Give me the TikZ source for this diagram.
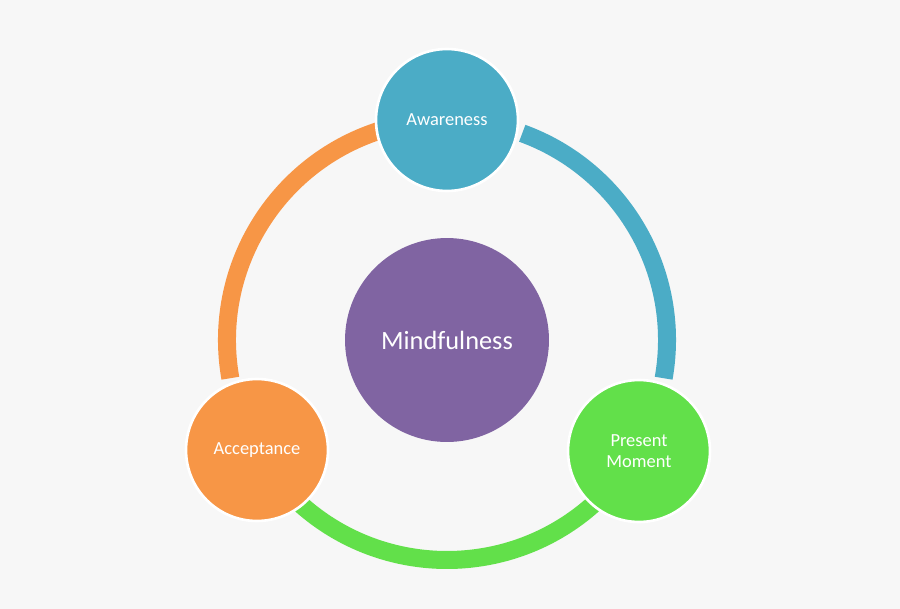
\documentclass[tikz,border=0pt]{standalone}
\usepackage{fontspec}
\setmainfont{Carlito}
\usetikzlibrary{positioning}
\definecolor{awareblue}{HTML}{4BACC6}
\definecolor{mindpurple}{HTML}{8064A2}
\definecolor{presentgreen}{HTML}{62E04A}
\definecolor{acceptorange}{HTML}{F79646}
\definecolor{bggray}{HTML}{F7F7F7}
\begin{document}
\begin{tikzpicture}[x=0.02cm,y=-0.02cm]
		\tikzstyle{petal} = [circle, draw=white, line width=1.5pt, minimum size=2.84cm, text=white, font=\fontsize{10.5}{12}\selectfont, align=center, inner sep=0pt]
		\tikzstyle{ring} = [line width=0.36cm]
		\fill[bggray] (0,0) rectangle (900,609);
		\useasboundingbox (0,0) rectangle (900,609);
		\coordinate (hub) at (447,340);

		% ring arcs (y axis points down, so angles are mirrored)
		\draw[ring, awareblue] (hub) ++(-70:220) arc[start angle=-70, end angle=10, radius=220];
		\draw[ring, presentgreen] (hub) ++(48:220) arc[start angle=48, end angle=132, radius=220];
		\draw[ring, acceptorange] (hub) ++(170:220) arc[start angle=170, end angle=252, radius=220];

		% centre
		\node[circle, fill=mindpurple, minimum size=4.08cm, text=white, font=\fontsize{15}{18}\selectfont] (mind) at (hub) {Mindfulness};

		% outer circles
		\node[petal, fill=awareblue] (aware) at (447,120) {Awareness};
		\node[petal, fill=presentgreen] (present) at (639,451) {Present\\Moment};
		\node[petal, fill=acceptorange] (accept) at (257,450) {Acceptance};
	\end{tikzpicture}
\end{document}
